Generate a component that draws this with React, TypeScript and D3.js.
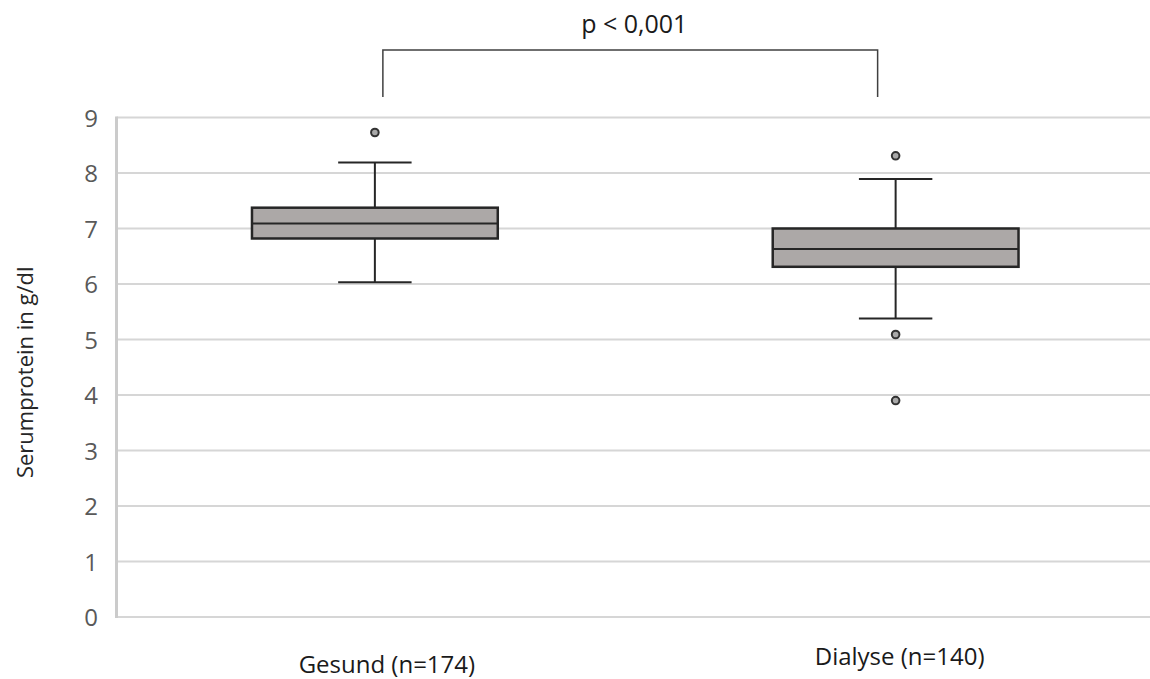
import React from "react";
import * as d3 from "d3";

// Serum protein by group: five-number summaries plus outliers
const categories = ["Gesund (n=174)", "Dialyse (n=140)"];
const whiskerLow = [6.03, 5.38];
const q1 = [6.82, 6.31];
const median = [7.09, 6.63];
const q3 = [7.375, 7.0];
const whiskerHigh = [8.19, 7.89];
const outliers = [[8.73], [8.31, 5.09, 3.9]];
const yTicks = [0, 1, 2, 3, 4, 5, 6, 7, 8, 9];
const yTitle = "Serumprotein in g/dl";
const pLabel = "p < 0,001";

const W = 1150;
const H = 679;
const FONT = "'Open Sans', 'DejaVu Sans', sans-serif";

export default function App() {
  const y = d3.scaleLinear().domain([0, 9]).range([617, 117.5]);
  const x = d3.scaleBand<string>().domain(categories).range([114.5, 1156]).paddingInner(0);
  const bw = x.bandwidth();
  const boxW = bw * 0.472;
  const capW = bw * 0.141;
  const cx = (c: string) => (x(c) as number) + bw / 2;

  const axisX = 116.5;
  const gridRight = 1150;

  const bracketL = cx(categories[0]) + 8;
  const bracketR = cx(categories[1]) - 18;

  return (
    <svg
      width={W}
      height={H}
      viewBox={`0 0 ${W} ${H}`}
      style={{ position: "absolute", left: 0, top: 0, background: "#fff" }}
      fontFamily={FONT}
    >
      {/* horizontal gridlines */}
      {yTicks.map((t) => (
        <line key={"g" + t} x1={axisX} x2={gridRight} y1={y(t)} y2={y(t)} stroke="#d6d6d6" strokeWidth={2.2} />
      ))}
      {/* y axis line */}
      <line x1={axisX} x2={axisX} y1={y(9) - 1} y2={y(0) + 1} stroke="#cbcbcb" strokeWidth={3} />
      {/* tick labels */}
      {yTicks.map((t) => (
        <text key={"t" + t} x={98} y={y(t)} dy="0.38em" textAnchor="end" fontSize={24} fill="#595959">
          {t}
        </text>
      ))}
      {/* y title */}
      <text
        transform={`translate(33, ${(y(0) + y(9)) / 2 + 5}) rotate(-90)`}
        textAnchor="middle"
        fontSize={22}
        fill="#262626"
      >
        {yTitle}
      </text>

      {/* boxes */}
      {categories.map((c, i) => {
        const mx = cx(c);
        return (
          <g key={c}>
            <line x1={mx} x2={mx} y1={y(whiskerHigh[i])} y2={y(q3[i])} stroke="#262626" strokeWidth={2} />
            <line x1={mx} x2={mx} y1={y(q1[i])} y2={y(whiskerLow[i])} stroke="#262626" strokeWidth={2} />
            <line x1={mx - capW / 2} x2={mx + capW / 2} y1={y(whiskerHigh[i])} y2={y(whiskerHigh[i])} stroke="#262626" strokeWidth={2} />
            <line x1={mx - capW / 2} x2={mx + capW / 2} y1={y(whiskerLow[i])} y2={y(whiskerLow[i])} stroke="#262626" strokeWidth={2} />
            <rect
              x={mx - boxW / 2}
              y={y(q3[i])}
              width={boxW}
              height={y(q1[i]) - y(q3[i])}
              fill="#aca8a7"
              stroke="#262626"
              strokeWidth={2.5}
            />
            <line x1={mx - boxW / 2} x2={mx + boxW / 2} y1={y(median[i])} y2={y(median[i])} stroke="#262626" strokeWidth={2} />
            {outliers[i].map((v, k) => (
              <circle key={k} cx={mx} cy={y(v)} r={3.8} fill="#a9a9a9" stroke="#333" strokeWidth={2} />
            ))}
          </g>
        );
      })}

      {/* category labels */}
      <text x={cx(categories[0]) + 12} y={673} textAnchor="middle" fontSize={24} fill="#1a1a1a">
        {categories[0]}
      </text>
      <text x={cx(categories[1]) + 4} y={665} textAnchor="middle" fontSize={24} fill="#1a1a1a">
        {categories[1]}
      </text>

      {/* significance bracket */}
      <path
        d={`M${bracketL},97 V50 H${bracketR} V97`}
        fill="none"
        stroke="#404040"
        strokeWidth={1.5}
      />
      <text x={(bracketL + bracketR) / 2 + 4} y={33} textAnchor="middle" fontSize={25} fill="#1a1a1a">
        {pLabel}
      </text>
    </svg>
  );
}
